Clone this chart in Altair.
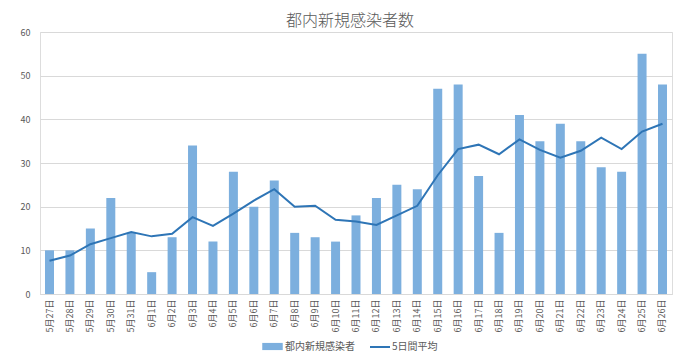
import altair as alt
import pandas as pd

dates = ["5月27日", "5月28日", "5月29日", "5月30日", "5月31日",
         "6月1日", "6月2日", "6月3日", "6月4日", "6月5日", "6月6日", "6月7日",
         "6月8日", "6月9日", "6月10日", "6月11日", "6月12日", "6月13日", "6月14日",
         "6月15日", "6月16日", "6月17日", "6月18日", "6月19日", "6月20日", "6月21日",
         "6月22日", "6月23日", "6月24日", "6月25日", "6月26日"]
new_cases = [10, 10, 15, 22, 14, 5, 13, 34, 12, 28, 20, 26, 14, 13, 12, 18,
             22, 25, 24, 47, 48, 27, 14, 41, 35, 39, 35, 29, 28, 55, 48]
avg5 = [7.6, 8.8, 11.4, 12.8, 14.2, 13.2, 13.8, 17.6, 15.6, 18.4, 21.4, 24.0,
        20.0, 20.2, 17.0, 16.6, 15.8, 18.0, 20.2, 27.2, 33.2, 34.2, 32.0, 35.4,
        33.0, 31.2, 32.8, 35.8, 33.2, 37.2, 39.0]

BAR_NAME = "都内新規感染者"
LINE_NAME = "5日間平均"

df = pd.DataFrame({"date": dates, "cases": new_cases, "avg": avg5,
                   "bar_s": BAR_NAME, "line_s": LINE_NAME})

FONT = "Noto Sans CJK JP"
GRAY = "#595959"
GRID = "#d9d9d9"

x = alt.X("date:N", sort=dates, title=None,
          scale=alt.Scale(paddingInner=0.56, paddingOuter=0.245),
          axis=alt.Axis(labelAngle=-90, labelAlign="right", labelBaseline="middle",
                        labelPadding=5, ticks=False, domainColor=GRID,
                        labelFontSize=9, labelColor=GRAY, labelFont=FONT))

bars = alt.Chart(df).mark_bar(color="#7cafde").encode(
    x=x,
    y=alt.Y("cases:Q", title=None,
            scale=alt.Scale(domain=[0, 60], nice=False),
            axis=alt.Axis(values=[0, 10, 20, 30, 40, 50, 60], domain=False, ticks=False,
                          gridColor=GRID, labelPadding=10, labelFontSize=9,
                          labelColor=GRAY, labelFont=FONT)),
    color=alt.Color("bar_s:N", scale=alt.Scale(domain=[BAR_NAME], range=["#7cafde"]),
                    legend=alt.Legend(title=None, orient="none", legendX=222, legendY=304,
                                      symbolType="M-1,-0.35H1V0.35H-1Z", symbolSize=420,
                                      symbolStrokeWidth=0, labelFontSize=10, labelColor=GRAY,
                                      labelFont=FONT, labelOffset=2)),
)

line = alt.Chart(df).mark_line(strokeWidth=2).encode(
    x=alt.X("date:N", sort=dates),
    y=alt.Y("avg:Q"),
    stroke=alt.Stroke("line_s:N", scale=alt.Scale(domain=[LINE_NAME], range=["#2e75b6"]),
                      legend=alt.Legend(title=None, orient="none", legendX=329, legendY=304,
                                        symbolType="stroke", symbolSize=400,
                                        symbolStrokeWidth=2, labelFontSize=10,
                                        labelColor=GRAY, labelFont=FONT, labelOffset=1)),
)

chart = alt.layer(bars, line).resolve_scale(color="independent").properties(
    width=632, height=262,
    autosize=alt.AutoSizeParams(type="none"),
    padding={"left": 32, "top": 24, "right": 18, "bottom": 60},
    title=alt.TitleParams("都内新規感染者数", fontSize=16, color=GRAY, fontWeight=300,
                          font=FONT, anchor="middle", dx=-6, dy=6, offset=5),
).configure_view(stroke=None).configure(background="white")

chart.save("out.html", embed_options={"renderer": "svg", "actions": False})
